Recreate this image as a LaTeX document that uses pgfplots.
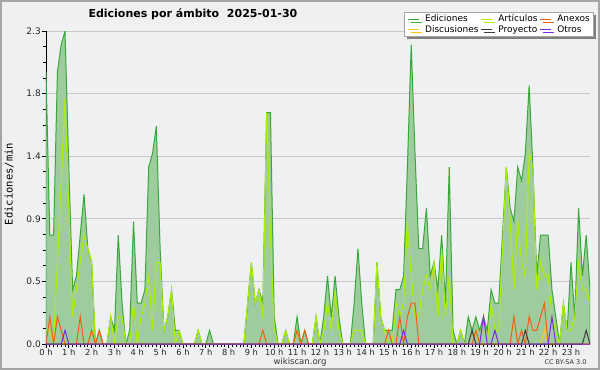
\documentclass[border=0pt]{standalone}
\usepackage{fontspec}
\setmainfont{DejaVu Sans}
\setmonofont{DejaVu Sans Mono}
\usepackage{pgfplots}
\pgfplotsset{compat=1.18}
\usepackage{pgfplotstable}
\usetikzlibrary{shadows}

\definecolor{bg}{RGB}{239,240,241}
\definecolor{framec}{RGB}{165,165,165}
\definecolor{totline}{RGB}{56,168,56}
\definecolor{totfill}{RGB}{158,204,158}
\definecolor{art}{RGB}{176,238,0}
\definecolor{anx}{RGB}{240,96,16}
\definecolor{dis}{RGB}{255,200,20}
\definecolor{pro}{RGB}{60,60,60}
\definecolor{otr}{RGB}{120,40,230}
\definecolor{gridc}{RGB}{200,200,200}

\pgfplotstableread{
i T A X D P O
0 2.0 0.1 0 0 0 0
1 0.8 0.1 0.2 0 0 0
2 0.8 0.0 0 0 0 0
3 2.0 0.6 0.2 0 0 0
4 2.2 1.2 0.1 0 0 0
5 2.3 1.8 0 0 0 0.1
6 1.3 1.0 0 0 0 0
7 0.4 0.2 0 0 0 0
8 0.5 0.4 0 0 0 0
9 0.8 0.6 0.2 0 0 0
10 1.1 0.8 0 0 0 0
11 0.7 0.7 0 0 0 0
12 0.6 0.6 0.1 0 0 0
13 0 0 0 0 0 0
14 0.1 0 0.1 0 0 0
15 0 0 0 0 0 0
16 0 0 0 0 0 0
17 0.2 0.2 0 0 0 0
18 0.1 0 0 0 0 0
19 0.8 0.2 0 0 0 0
20 0.3 0.2 0 0 0 0
21 0 0 0 0 0 0
22 0.1 0 0 0 0 0
23 0.9 0.3 0 0 0 0
24 0.3 0 0 0 0 0
25 0.3 0.2 0 0 0 0
26 0.4 0.3 0 0 0 0
27 1.3 0.5 0 0 0 0
28 1.4 0.1 0 0 0 0
29 1.6 0.6 0 0 0 0
30 0.7 0.6 0 0 0 0
31 0.1 0.1 0 0 0 0
32 0.2 0.2 0 0 0 0
33 0.4 0.4 0 0 0 0
34 0.1 0 0 0 0 0
35 0.1 0.1 0 0 0 0
36 0 0 0 0 0 0
37 0 0 0 0 0 0
38 0 0 0 0 0 0
39 0 0 0 0 0 0
40 0.1 0.1 0 0 0 0
41 0 0 0 0 0 0
42 0 0 0 0 0 0
43 0.1 0 0 0 0 0
44 0 0 0 0 0 0
45 0 0 0 0 0 0
46 0 0 0 0 0 0
47 0 0 0 0 0 0
48 0 0 0 0 0 0
49 0 0 0 0 0 0
50 0 0 0 0 0 0
51 0 0 0 0 0 0
52 0 0 0 0 0 0
53 0.3 0.3 0 0 0 0
54 0.6 0.6 0 0 0 0
55 0.3 0.3 0 0 0 0
56 0.4 0.4 0 0 0 0
57 0.3 0.2 0.1 0 0 0
58 1.7 1.7 0 0 0 0
59 1.7 0.8 0 0 0 0
60 0.2 0.1 0 0 0 0
61 0 0 0 0 0 0
62 0 0 0 0 0 0
63 0.1 0.1 0 0 0 0
64 0 0 0 0 0 0
65 0 0 0 0 0 0
66 0.2 0.1 0.1 0 0 0
67 0 0 0 0 0 0
68 0.1 0 0.1 0 0 0
69 0 0 0 0 0 0
70 0 0 0 0 0 0
71 0.2 0.2 0 0 0 0
72 0 0 0 0 0 0
73 0.2 0.1 0 0 0 0
74 0.5 0.3 0 0 0 0
75 0.2 0.1 0 0 0 0
76 0.5 0.4 0 0 0 0
77 0.2 0.1 0 0 0 0
78 0 0 0 0 0 0
79 0 0 0 0 0 0
80 0 0 0 0 0 0
81 0.3 0.1 0 0 0 0
82 0.7 0.1 0 0 0 0
83 0.3 0.1 0 0 0 0
84 0 0 0 0 0 0
85 0 0 0 0 0 0
86 0 0 0 0 0 0
87 0.6 0.6 0 0 0 0
88 0.2 0.2 0 0 0 0
89 0.1 0.1 0 0 0 0
90 0.1 0 0.1 0 0 0
91 0.1 0 0 0 0 0
92 0.4 0.3 0 0 0 0
93 0.4 0.2 0.2 0 0 0
94 0.5 0.3 0 0 0 0.1
95 1.3 0.9 0.2 0 0 0
96 2.2 0.5 0.3 0 0 0
97 1.4 0.2 0.3 0 0 0
98 0.7 0.2 0 0 0 0
99 0.7 0.4 0 0 0 0
100 1.0 0.5 0 0 0 0
101 0.5 0.4 0 0 0 0
102 0.6 0.6 0 0 0 0
103 0.4 0.2 0 0 0 0
104 0.8 0.7 0 0 0 0
105 0.3 0.2 0 0 0 0
106 1.3 0.5 0 0 0 0
107 0.1 0 0 0 0 0
108 0 0 0 0 0 0
109 0.1 0.1 0 0 0 0
110 0 0 0 0 0 0
111 0.2 0 0 0 0 0
112 0.1 0 0 0 0.1 0
113 0.2 0.1 0.1 0 0 0
114 0.1 0 0 0 0 0
115 0.2 0 0 0 0 0.2
116 0.1 0 0 0 0 0
117 0.4 0.3 0 0 0 0
118 0.3 0.1 0 0 0 0.1
119 0.3 0.1 0 0 0 0
120 0.8 0.7 0 0 0 0
121 1.3 1.3 0 0 0 0
122 1.0 0.9 0 0 0 0
123 0.9 0.4 0.2 0 0 0
124 1.3 0.9 0 0 0 0
125 1.2 0.6 0.1 0 0 0
126 1.4 0.5 0 0 0.1 0
127 1.9 1.4 0.2 0 0 0
128 1.3 1.3 0.1 0 0 0
129 0.5 0.4 0.1 0 0 0
130 0.8 0.6 0.2 0 0 0
131 0.8 0.5 0.3 0.1 0 0
132 0.8 0.5 0 0 0 0
133 0.4 0.2 0 0 0 0.2
134 0.2 0.1 0 0 0 0
135 0 0 0 0 0 0
136 0.3 0.3 0 0 0 0
137 0.1 0.1 0 0 0 0
138 0.6 0.1 0 0 0 0
139 0.2 0.2 0 0 0 0
140 1.0 0.6 0 0 0 0
141 0.5 0.4 0 0 0 0
142 0.8 0.4 0 0 0.1 0
143 0.4 0.3 0 0 0 0
}\data

\begin{document}
\begin{tikzpicture}
\useasboundingbox (0pt,0pt) rectangle (600pt,370pt);
\fill[bg] (0pt,0pt) rectangle (600pt,370pt);
\draw[framec, line width=2pt] (1pt,1pt) rectangle (599pt,369pt);
\begin{axis}[
  at={(46pt,26pt)}, anchor=south west,
  scale only axis, width=544pt, height=313pt,
  xmin=0, xmax=143, ymin=0, ymax=2.3,
  axis x line*=bottom, axis y line*=left,
  axis line style={black, line width=0.8pt, -},
  xtick={0,6,...,138},
  xticklabels={0 h,1 h,2 h,3 h,4 h,5 h,6 h,7 h,8 h,9 h,10 h,11 h,12 h,13 h,14 h,15 h,16 h,17 h,18 h,19 h,20 h,21 h,22 h,23 h},
  minor x tick num=5,
  ytick={0,0.46,0.92,1.38,1.84,2.3},
  yticklabels={0.0,0.5,0.9,1.4,1.8,2.3},
  minor y tick num=3,
  tick align=outside,
  major tick length=4pt, minor tick length=3pt,
  tick style={black, line width=0.8pt},
  ymajorgrids, grid style={gridc, line width=0.8pt},
  yticklabel style={font=\fontsize{9}{10}\selectfont, text=black!85, inner sep=1pt},
  xticklabel style={font=\fontsize{8.3}{9}\selectfont, text=black!85, inner sep=0.5pt},
  legend columns=3,
  legend cell align=left,
  legend image code/.code={\draw[#1] (0pt,0pt) -- (11pt,0pt);},
  legend style={at={(axis description cs:1.0055,1.0607)}, anchor=north east,
    draw=black!35, fill=white, font=\fontsize{9}{10}\selectfont,
    inner xsep=3pt, inner ysep=1.5pt, row sep=0pt,
    nodes={inner xsep=0pt, inner ysep=1pt},
    /tikz/every odd column/.append style={column sep=6pt},
    /tikz/every even column/.append style={column sep=2pt},
    drop shadow={shadow xshift=3pt, shadow yshift=-3pt, fill=black!50, opacity=1}},
]
\addlegendimage{totline, line width=0.8pt}
\addlegendentry{Ediciones}
\addlegendimage{art, line width=0.8pt}
\addlegendentry{Artículos}
\addlegendimage{anx, line width=0.8pt}
\addlegendentry{Anexos}
\addlegendimage{dis, line width=0.8pt}
\addlegendentry{Discusiones}
\addlegendimage{pro, line width=0.8pt}
\addlegendentry{Proyecto}
\addlegendimage{otr, line width=0.8pt}
\addlegendentry{Otros}

\addplot[draw=totline, line width=1pt, fill=totfill, forget plot] table[x=i,y=T]{\data} \closedcycle;
\addplot[draw=art, line width=1pt, forget plot] table[x=i,y=A]{\data};
\addplot[draw=dis, line width=1pt, forget plot] table[x=i,y=D]{\data};
\addplot[draw=anx, line width=1pt, forget plot] table[x=i,y=X]{\data};
\addplot[draw=pro, line width=1pt, forget plot] table[x=i,y=P]{\data};
\addplot[draw=otr, line width=1pt, forget plot] table[x=i,y=O]{\data};
\end{axis}
\node[anchor=base west, font=\bfseries\fontsize{11}{13}\selectfont] at (85pt,352pt) {Ediciones por ámbito\hspace{0.7em}2025-01-30};
\node[rotate=90, font=\ttfamily\fontsize{10.5}{12}\selectfont] at (9pt,186pt) {Ediciones/min};
\node[font=\fontsize{8.5}{10}\selectfont, text=black!80] at (300pt,7.5pt) {wikiscan.org};
\node[anchor=east, font=\fontsize{6.5}{8}\selectfont, text=black!80] at (590pt,7.5pt) {CC BY-SA 3.0};
\end{tikzpicture}
\end{document}
